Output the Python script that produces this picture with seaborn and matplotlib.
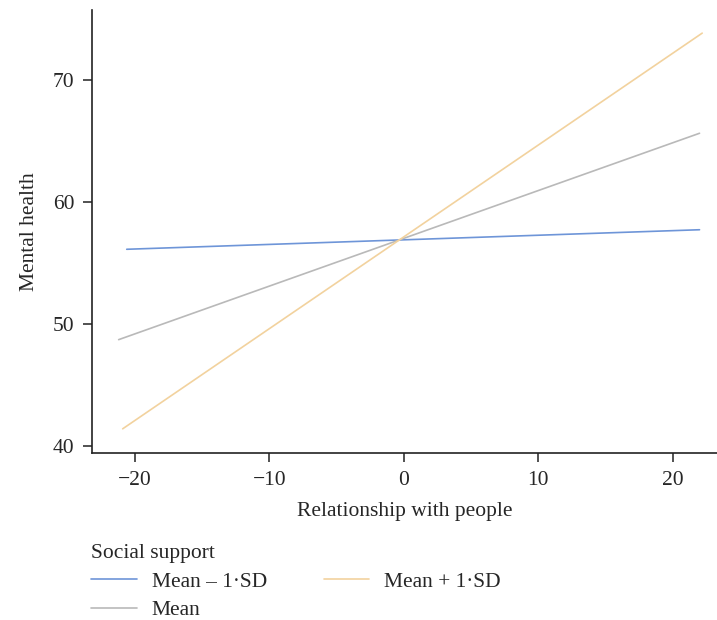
import pandas as pd
import matplotlib.pyplot as plt
import seaborn as sns

# endpoints of the simple slopes
groups = ['Mean – 1·SD', 'Mean', 'Mean + 1·SD']
x_start = [-20.6, -21.2, -20.9]
x_end = [22.0, 22.0, 22.2]
y_start = [56.1, 48.7, 41.4]
y_end = [57.7, 65.6, 73.8]
colors = ['#6e95d8', '#b9b9b9', '#f2d29e']

rows = []
for g, x0, x1, y0, y1 in zip(groups, x_start, x_end, y_start, y_end):
    rows.append({'Relationship with people': x0, 'Mental health': y0, 'Social support': g})
    rows.append({'Relationship with people': x1, 'Mental health': y1, 'Social support': g})
data = pd.DataFrame(rows)

sns.set_style('ticks')
plt.rcParams['font.family'] = ['Liberation Serif', 'DejaVu Serif']

fig = plt.figure(figsize=(7.17, 6.2), dpi=100)
ax = fig.add_axes([0.128, 0.269, 0.872, 0.715])

sns.lineplot(data=data, x='Relationship with people', y='Mental health',
             hue='Social support', hue_order=groups, palette=colors,
             linewidth=1.2, ax=ax)

ax.set_xlim(-23.2, 23.3)
ax.set_ylim(39.4, 75.7)
ax.set_xticks([-20, -10, 0, 10, 20])
ax.set_xticklabels(['\u221220', '\u221210', '0', '10', '20'])
ax.set_yticks([40, 50, 60, 70])
ax.tick_params(labelsize=15.5, length=6.5, width=1.1, color='#222222', pad=6)
ax.set_xlabel('Relationship with people', fontsize=15.5, labelpad=9)
ax.set_ylabel('Mental health', fontsize=15.5, labelpad=10)
sns.despine(ax=ax)
for s in ['left', 'bottom']:
    ax.spines[s].set_linewidth(1.2)
    ax.spines[s].set_color('#222222')

handles, labels = ax.get_legend_handles_labels()
ax.legend(handles, labels, title='Social support', ncol=2, frameon=False,
          loc='upper left', bbox_to_anchor=(0.1064, 0.147),
          bbox_transform=fig.transFigure, fontsize=15.5, title_fontsize=15.5,
          alignment='left', handlelength=2.1, columnspacing=2.65,
          labelspacing=0.4, handletextpad=0.7, borderpad=0.2)

fig.savefig('out.png', dpi=100)
